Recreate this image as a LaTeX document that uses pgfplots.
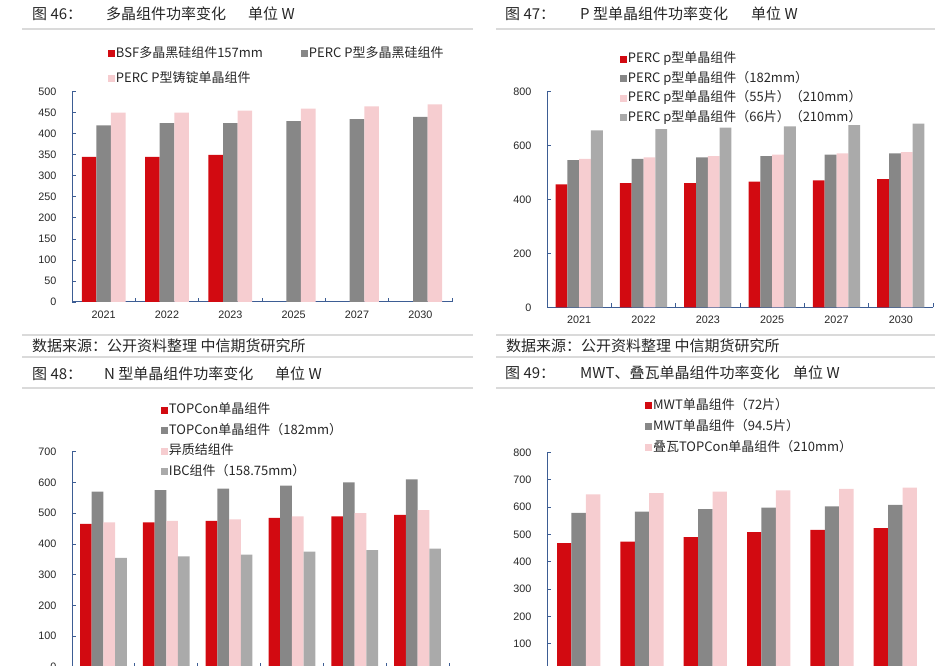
\documentclass[border=0pt]{standalone}
\usepackage{fontspec}
\setmainfont{Liberation Sans}
\newfontfamily\cjk{Noto Sans CJK SC}
\usepackage{pgfplots}
\pgfplotsset{compat=1.18}

\definecolor{cred}{HTML}{D20A11}
\definecolor{cdark}{HTML}{878787}
\definecolor{cpink}{HTML}{F6CDD0}
\definecolor{clight}{HTML}{AAAAAA}
\definecolor{axblue}{HTML}{3D5D94}
\definecolor{rulegray}{HTML}{DADADA}
\definecolor{txt}{HTML}{262626}

\pgfplotsset{
  sqlegend/.style={legend image code/.code={\fill[##1] (0bp,-3.5bp) rectangle (7bp,3.5bp);}},
  panel/.style={
    scale only axis, anchor=south west,
    ybar=0pt, enlargelimits=false,
    axis lines*=left,
    axis line style={axblue, line width=1bp},
    tick align=inside,
    xtick={0,...,5},
    xticklabels={2021,2022,2023,2025,2027,2030},
    major x tick style={draw=none},
    minor xtick={-0.5,0.5,...,5.5},
    minor tick length=4bp,
    major tick length=4bp,
    tick style={axblue, line width=0.8bp},
    xmin=-0.5, xmax=5.5, ymin=0,
    tick label style={font=\fontsize{10.8bp}{12bp}\selectfont, color=txt},
    /pgf/number format/assume math mode=true,
    yticklabel style={xshift=-12bp},
    xticklabel style={yshift=-5bp},
    legend style={draw=none, fill=none, inner sep=0pt, outer sep=0pt, anchor=north west,
      font=\cjk\fontsize{13bp}{15bp}\selectfont, text=txt,
      nodes={inner sep=1bp, text height=10bp, text depth=3bp}},
    legend cell align=left,
    every axis plot/.append style={draw=none, sqlegend},
  },
  % the bottom panels are cut by the page edge below their category labels
  cutpanel/.style={xticklabels={}},
}

\begin{document}
\begin{tikzpicture}
\useasboundingbox (0bp,0bp) rectangle (935bp,666bp);
\clip (0bp,0bp) rectangle (935bp,666bp);

% rules
\foreach \y in {637,331,309,278} {
  \draw[rulegray, line width=2bp] (22bp,\y bp) -- (473bp,\y bp);
  \draw[rulegray, line width=2bp] (496bp,\y bp) -- (935bp,\y bp);
}

% titles and sources
\begin{scope}[every node/.style={anchor=west, inner sep=0pt, text=txt, font=\cjk\fontsize{15bp}{18bp}\selectfont}]
\node at (32bp,652bp) {图 46：};
\node at (106bp,652bp) {多晶组件功率变化};
\node at (248bp,652bp) {单位 W};
\node at (505bp,652bp) {图 47：};
\node at (580bp,652bp) {P 型单晶组件功率变化};
\node at (751bp,652bp) {单位 W};
\node at (32bp,320bp) {数据来源：公开资料整理 中信期货研究所};
\node at (506bp,320bp) {数据来源：公开资料整理 中信期货研究所};
\node at (32bp,292bp) {图 48：};
\node at (104bp,292bp) {N 型单晶组件功率变化};
\node at (275bp,292bp) {单位 W};
\node at (505bp,293bp) {图 49：};
\node at (580bp,293bp) {MWT、叠瓦单晶组件功率变化};
\node at (793bp,293bp) {单位 W};
\end{scope}

% Figure 46
\begin{axis}[panel, at={(72bp,364bp)}, width=380bp, height=210.3bp, bar width=14.6bp,
  ymax=500, ytick={0,50,...,500},
  legend columns=2,
  legend style={at={(0.0947,1.215)}, row sep=10bp,
    /tikz/every even column/.append style={column sep=37bp}}]
\addplot[fill=cred] coordinates {(0,345) (1,345) (2,350)};
\addplot[fill=cdark] coordinates {(0,420) (1,425) (2,425) (3,430) (4,435) (5,440)};
\addplot[fill=cpink] coordinates {(0,450) (1,450) (2,455) (3,460) (4,465) (5,470)};
\legend{BSF多晶黑硅组件157mm, PERC P型多晶黑硅组件, PERC P型铸锭单晶组件}
\end{axis}

% Figure 47
\begin{axis}[panel, at={(547bp,358.7bp)}, width=386bp, height=216bp, bar width=11.8bp,
  ymax=800, ytick={0,200,...,800},
  legend style={at={(0.189,1.184)}, row sep=4.5bp}]
\addplot[fill=cred] coordinates {(0,455) (1,460) (2,460) (3,465) (4,470) (5,475)};
\addplot[fill=cdark] coordinates {(0,545) (1,550) (2,555) (3,560) (4,565) (5,570)};
\addplot[fill=cpink] coordinates {(0,550) (1,555) (2,560) (3,565) (4,570) (5,575)};
\addplot[fill=clight] coordinates {(0,655) (1,660) (2,665) (3,670) (4,675) (5,680)};
\legend{PERC p型单晶组件, PERC p型单晶组件（182mm）, PERC p型单晶组件（55片）（210mm）, PERC p型单晶组件（66片）（210mm）}
\end{axis}

% Figure 48
\begin{axis}[panel, cutpanel, at={(72bp,-1bp)}, width=377bp, height=215.3bp, bar width=11.7bp,
  ymax=700, ytick={0,100,...,700},
  legend style={at={(0.236,1.2285)}, row sep=5.5bp}]
\addplot[fill=cred] coordinates {(0,465) (1,470) (2,475) (3,485) (4,490) (5,495)};
\addplot[fill=cdark] coordinates {(0,570) (1,575) (2,580) (3,590) (4,600) (5,610)};
\addplot[fill=cpink] coordinates {(0,470) (1,475) (2,480) (3,490) (4,500) (5,510)};
\addplot[fill=clight] coordinates {(0,355) (1,360) (2,365) (3,375) (4,380) (5,385)};
\legend{TOPCon单晶组件, TOPCon单晶组件（182mm）, 异质结组件, IBC组件（158.75mm）}
\end{axis}

% Figure 49
\begin{axis}[panel, cutpanel, at={(547bp,-5bp)}, width=380bp, height=218.7bp, bar width=14.4bp,
  ymax=800, ytick={0,100,...,800},
  legend style={at={(0.258,1.247)}, row sep=6bp}]
\addplot[fill=cred] coordinates {(0,468) (1,473) (2,490) (3,508) (4,516) (5,523)};
\addplot[fill=cdark] coordinates {(0,578) (1,583) (2,592) (3,598) (4,602) (5,608)};
\addplot[fill=cpink] coordinates {(0,646) (1,651) (2,656) (3,661) (4,666) (5,671)};
\legend{MWT单晶组件（72片）, MWT单晶组件（94.5片）, 叠瓦TOPCon单晶组件（210mm）}
\end{axis}
\end{tikzpicture}
\end{document}
